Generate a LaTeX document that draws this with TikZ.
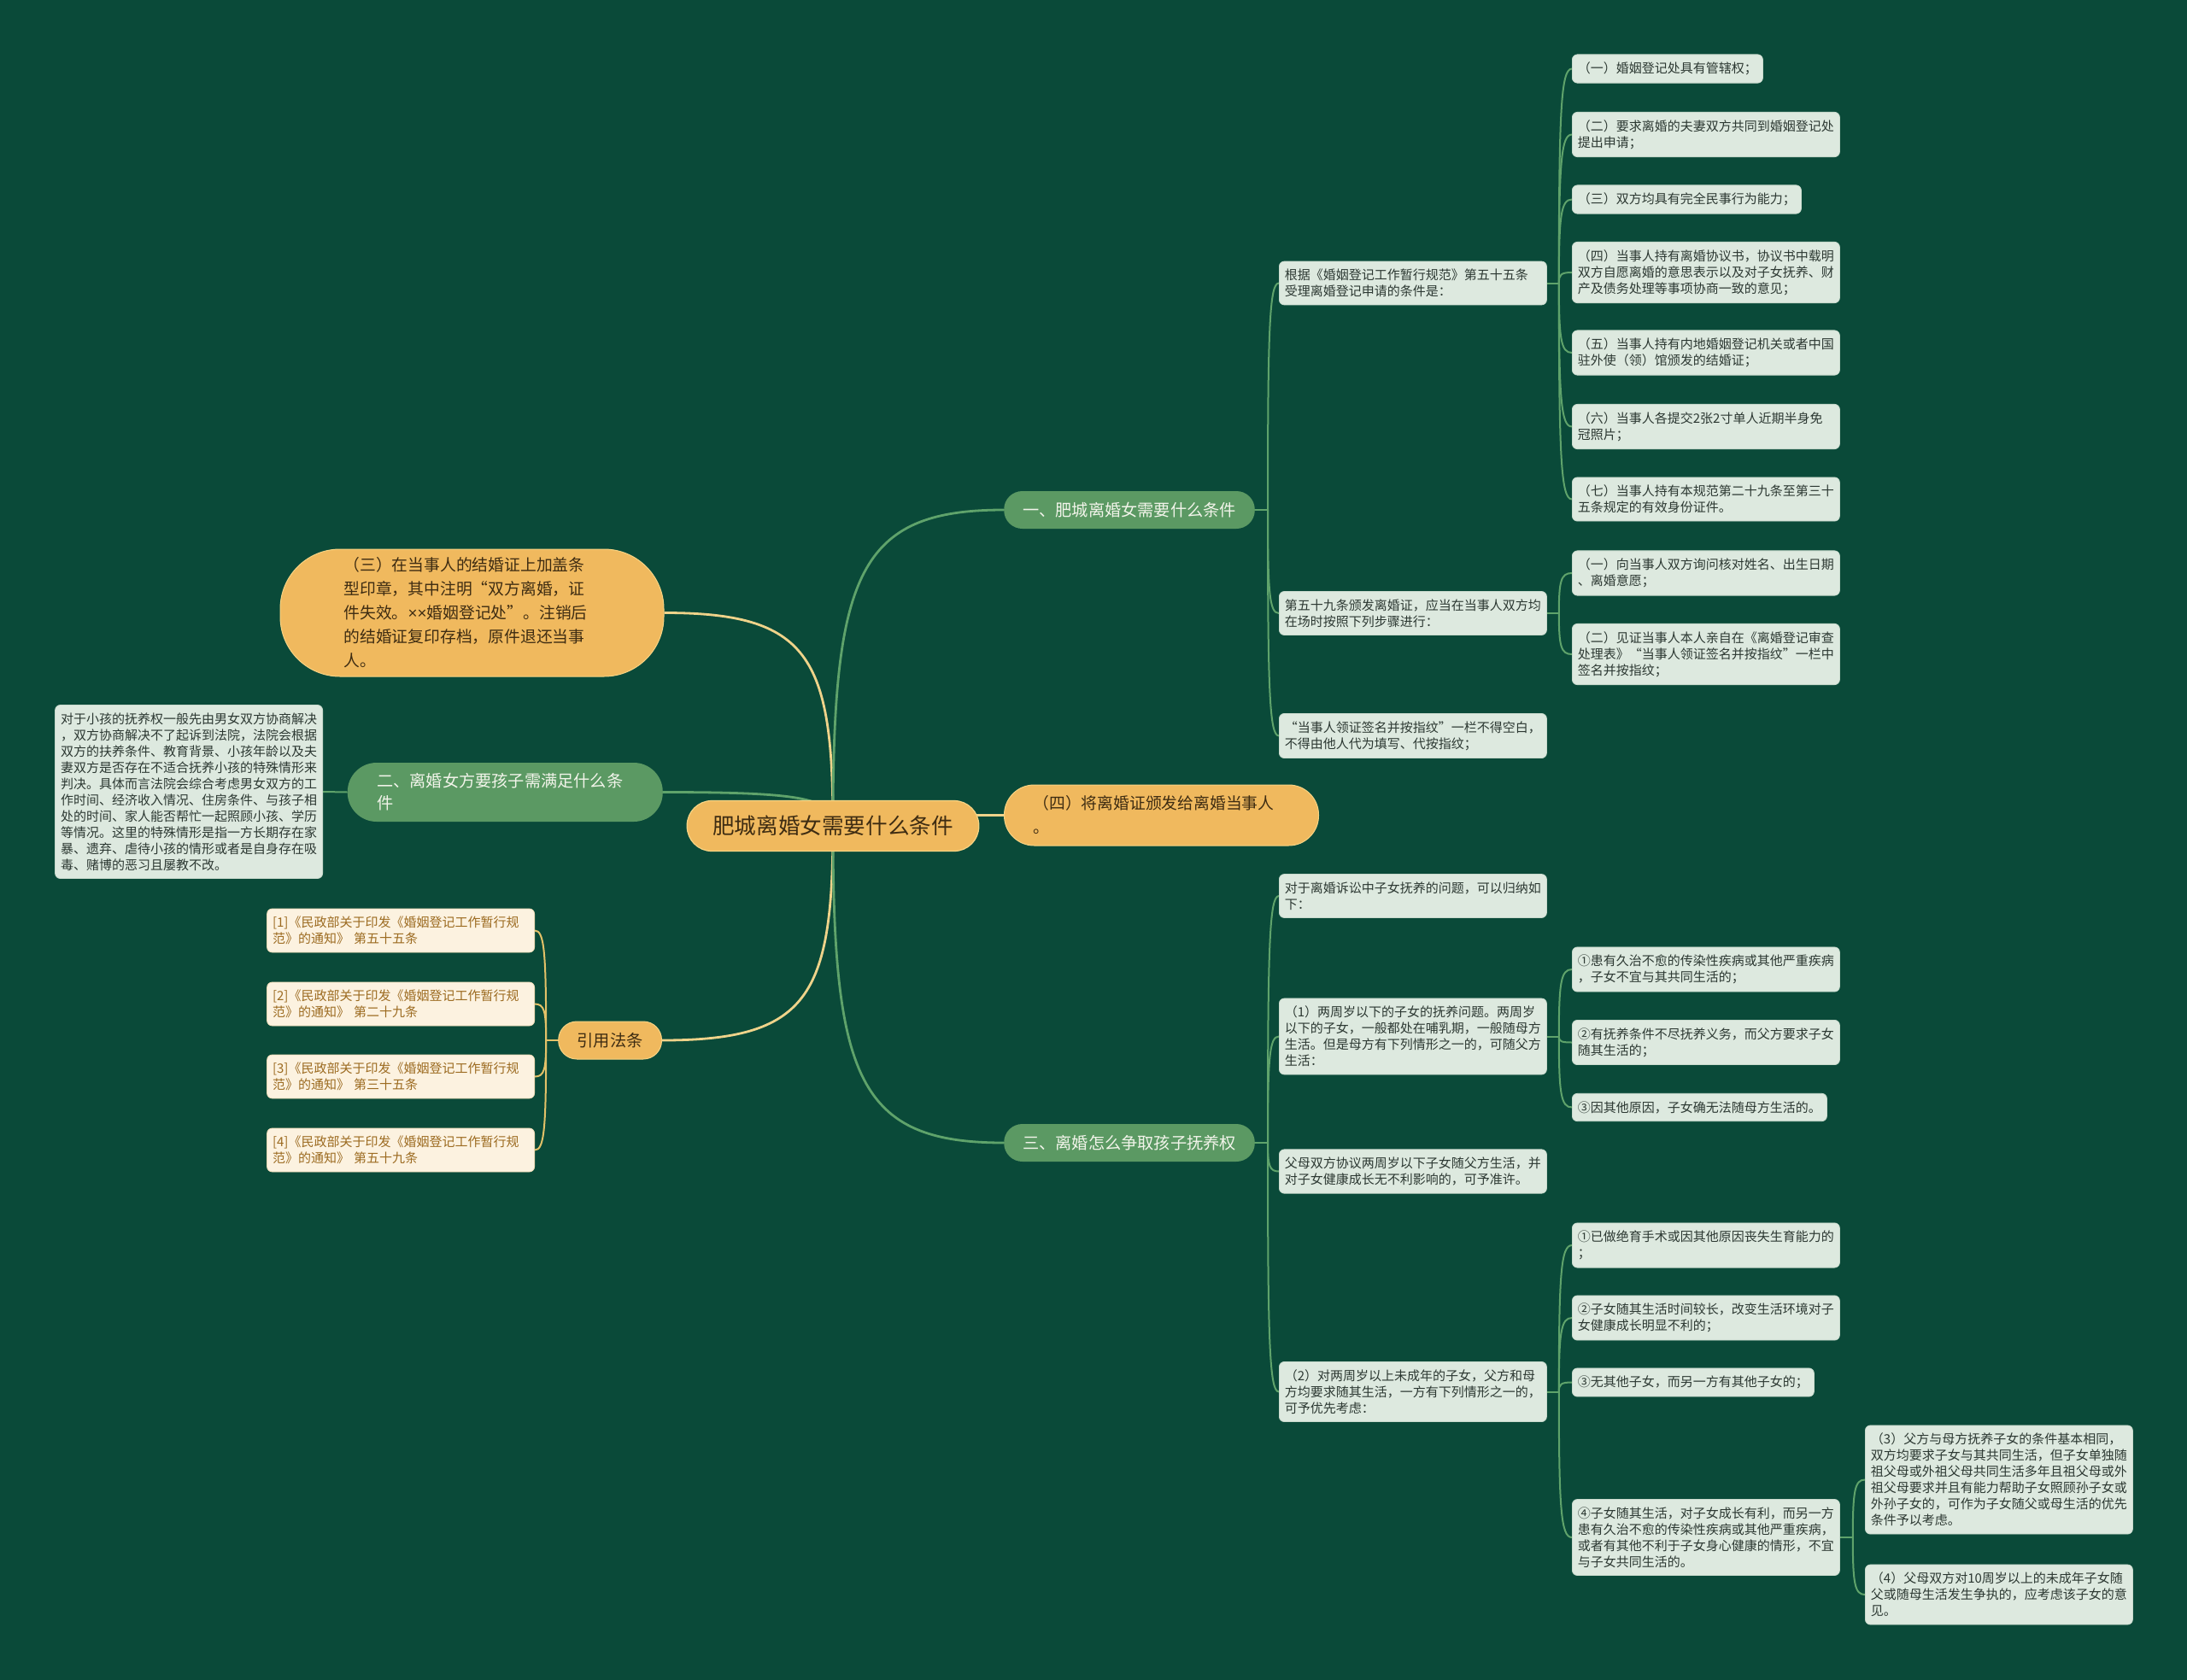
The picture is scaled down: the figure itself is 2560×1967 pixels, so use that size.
\documentclass[tikz,border=0pt]{standalone}
\usepackage{fontspec}
\setmainfont{Noto Sans CJK SC}
\newfontfamily\latinf{Liberation Sans}
\usetikzlibrary{calc}
\definecolor{bgc}{HTML}{0A4A39}
\definecolor{gfill}{HTML}{5B9963}
\definecolor{gtext}{HTML}{F2F4EA}
\definecolor{ofill}{HTML}{F0B95E}
\definecolor{oline}{HTML}{F7D383}
\definecolor{otext}{HTML}{3E2C12}
\definecolor{leaffill}{HTML}{DDE9DF}
\definecolor{leafline}{HTML}{C9DACD}
\definecolor{leaftext}{HTML}{2C3832}
\definecolor{reffill}{HTML}{FCF2E0}
\definecolor{refline}{HTML}{F0DDB8}
\definecolor{reftext}{HTML}{9C6B21}
\definecolor{glinkc}{HTML}{5FA36B}
\definecolor{ylinkc}{HTML}{EFD38A}
\definecolor{ylink2c}{HTML}{E2C168}
\pgfdeclarelayer{backdrop}
\pgfdeclarelayer{links}
\pgfsetlayers{backdrop,links,main}
\newcommand\mmlink[3]{\draw[#1] (#2) .. controls ($(#2)!0.8!(#2 |- #3)$) and ($(#3)!0.85!(#2 |- #3)$) .. (#3);}
\begin{document}
\begin{tikzpicture}[x=1pt,y=-1pt,
  rootbox/.style={fill=ofill, draw=oline, line width=1.2pt, rounded corners=29pt, minimum height=59pt, inner xsep=30pt, inner ysep=4pt, text=otext, font=\fontsize{25.6}{30}\selectfont},
  gpill/.style={fill=gfill, text=gtext, rounded corners=21.5pt, minimum height=44pt, inner xsep=22pt, inner ysep=4pt, font=\fontsize{19.2}{26}\selectfont, anchor=west},
  gpilltwo/.style={gpill, text width=300pt, align=left, minimum width=369pt, minimum height=69pt, rounded corners=34pt, inner xsep=0pt},
  opill/.style={fill=ofill, draw=oline, line width=1pt, text=otext, font=\fontsize{18.8}{28}\selectfont, text width=300pt, align=left, rounded corners=35pt, inner xsep=0pt, anchor=west},
  opillone/.style={fill=ofill, draw=oline, line width=1pt, text=otext, rounded corners=21.5pt, minimum height=44pt, inner xsep=22pt, inner ysep=4pt, font=\fontsize{19.2}{26}\selectfont},
  leaf/.style={fill=leaffill, draw=leafline, line width=0.8pt, rounded corners=6pt, inner xsep=6.5pt, inner ysep=9pt, align=left, text=leaftext, font=\fontsize{15}{19}\selectfont, anchor=west},
  leafw/.style={leaf, text width=300pt},
  refbox/.style={leaf, fill=reffill, draw=refline, text=reftext, text width=300pt, anchor=east},
  glink/.style={draw=glinkc, line width=2.8pt},
  ylink/.style={draw=ylinkc, line width=2.8pt},
  glinktwo/.style={draw=glinkc, line width=2pt},
  ylinktwo/.style={draw=ylink2c, line width=2pt}
]
\begin{pgfonlayer}{backdrop}
\fill[bgc] (0,0) rectangle (2560,1967);
\end{pgfonlayer}
\useasboundingbox (0,0) rectangle (2560,1967);

% root and main branches
\node[rootbox] (root) at (975,967) {肥城离婚女需要什么条件};
\node[gpill] (b1) at (1175,597) {一、肥城离婚女需要什么条件};
\node[opill, minimum width=368pt, minimum height=71pt] (b4) at (1175,954.5) {（四）将离婚证颁发给离婚当事人\\。};
\node[gpill] (b3) at (1175,1338) {三、离婚怎么争取孩子抚养权};
\node[opill, anchor=center, minimum width=449pt, minimum height=149pt, rounded corners=70pt] (o3) at (552.5,717.5) {（三）在当事人的结婚证上加盖条\\型印章，其中注明“双方离婚，证\\件失效。{\latinf ××}婚姻登记处”。注销后\\的结婚证复印存档，原件退还当事\\人。};
\node[gpilltwo, anchor=east] (b2) at (776,927.5) {二、离婚女方要孩子需满足什么条\\件};
\node[opillone, anchor=east] (cite) at (775,1218) {引用法条};

% left text box
\node[leafw, anchor=east] (tb) at (378,927) {对于小孩的抚养权一般先由男女双方协商解决\\，双方协商解决不了起诉到法院，法院会根据\\双方的扶养条件、教育背景、小孩年龄以及夫\\妻双方是否存在不适合抚养小孩的特殊情形来\\判决。具体而言法院会综合考虑男女双方的工\\作时间、经济收入情况、住房条件、与孩子相\\处的时间、家人能否帮忙一起照顾小孩、学历\\等情况。这里的特殊情形是指一方长期存在家\\暴、遗弃、虐待小孩的情形或者是自身存在吸\\毒、赌博的恶习且屡教不改。};

% references
\node[refbox] (ref1) at (626,1089.5) {[1]《民政部关于印发《婚姻登记工作暂行规\\范》的通知》 第五十五条};
\node[refbox] (ref2) at (626,1175.5) {[2]《民政部关于印发《婚姻登记工作暂行规\\范》的通知》 第二十九条};
\node[refbox] (ref3) at (626,1260.5) {[3]《民政部关于印发《婚姻登记工作暂行规\\范》的通知》 第三十五条};
\node[refbox] (ref4) at (626,1346.5) {[4]《民政部关于印发《婚姻登记工作暂行规\\范》的通知》 第五十九条};

% middle column
\node[leafw] (m1) at (1497,331.5) {根据《婚姻登记工作暂行规范》第五十五条\\受理离婚登记申请的条件是：};
\node[leafw] (m2) at (1497,718) {第五十九条颁发离婚证，应当在当事人双方均\\在场时按照下列步骤进行：};
\node[leafw] (m3) at (1497,861.5) {“当事人领证签名并按指纹”一栏不得空白，\\不得由他人代为填写、代按指纹；};
\node[leafw] (m4) at (1497,1049) {对于离婚诉讼中子女抚养的问题，可以归纳如\\下：};
\node[leafw] (m5) at (1497,1213.5) {（1）两周岁以下的子女的抚养问题。两周岁\\以下的子女，一般都处在哺乳期，一般随母方\\生活。但是母方有下列情形之一的，可随父方\\生活：};
\node[leafw] (m6) at (1497,1371.5) {父母双方协议两周岁以下子女随父方生活，并\\对子女健康成长无不利影响的，可予准许。};
\node[leafw] (m7) at (1497,1629.5) {（2）对两周岁以上未成年的子女，父方和母\\方均要求随其生活，一方有下列情形之一的，\\可予优先考虑：};

% right column top
\node[leaf] (l1) at (1840,80.5) {（一）婚姻登记处具有管辖权；};
\node[leafw] (l2) at (1840,157.5) {（二）要求离婚的夫妻双方共同到婚姻登记处\\提出申请；};
\node[leaf] (l3) at (1840,233.5) {（三）双方均具有完全民事行为能力；};
\node[leafw] (l4) at (1840,319) {（四）当事人持有离婚协议书，协议书中载明\\双方自愿离婚的意思表示以及对子女抚养、财\\产及债务处理等事项协商一致的意见；};
\node[leafw] (l5) at (1840,413) {（五）当事人持有内地婚姻登记机关或者中国\\驻外使（领）馆颁发的结婚证；};
\node[leafw] (l6) at (1840,499.5) {（六）当事人各提交2张2寸单人近期半身免\\冠照片；};
\node[leafw] (l7) at (1840,584.5) {（七）当事人持有本规范第二十九条至第三十\\五条规定的有效身份证件。};
\node[leafw] (l8) at (1840,671) {（一）向当事人双方询问核对姓名、出生日期\\、离婚意愿；};
\node[leafw] (l9) at (1840,766) {（二）见证当事人本人亲自在《离婚登记审查\\处理表》“当事人领证签名并按指纹”一栏中\\签名并按指纹；};

% right column bottom
\node[leafw] (r1) at (1840,1135) {①患有久治不愈的传染性疾病或其他严重疾病\\，子女不宜与其共同生活的；};
\node[leafw] (r2) at (1840,1220.5) {②有抚养条件不尽抚养义务，而父方要求子女\\随其生活的；};
\node[leaf] (r3) at (1840,1296.5) {③因其他原因，子女确无法随母方生活的。};
\node[leafw] (r4) at (1840,1458) {①已做绝育手术或因其他原因丧失生育能力的\\；};
\node[leafw] (r5) at (1840,1543) {②子女随其生活时间较长，改变生活环境对子\\女健康成长明显不利的；};
\node[leaf] (r6) at (1840,1618.5) {③无其他子女，而另一方有其他子女的；};
\node[leafw] (r7) at (1840,1800) {④子女随其生活，对子女成长有利，而另一方\\患有久治不愈的传染性疾病或其他严重疾病，\\或者有其他不利于子女身心健康的情形，不宜\\与子女共同生活的。};
\node[leafw] (r8) at (2183,1732.5) {（3）父方与母方抚养子女的条件基本相同，\\双方均要求子女与其共同生活，但子女单独随\\祖父母或外祖父母共同生活多年且祖父母或外\\祖父母要求并且有能力帮助子女照顾孙子女或\\外孙子女的，可作为子女随父或母生活的优先\\条件予以考虑。};
\node[leafw] (r9) at (2183,1867) {（4）父母双方对10周岁以上的未成年子女随\\父或随母生活发生争执的，应考虑该子女的意\\见。};

% spine points
\coordinate (b1s) at ($(b1.east)+(15,0)$);
\coordinate (b3s) at ($(b3.east)+(15,0)$);
\coordinate (m1s) at ($(m1.east)+(14,0)$);
\coordinate (m2s) at ($(m2.east)+(14,0)$);
\coordinate (m5s) at ($(m5.east)+(14,0)$);
\coordinate (m7s) at ($(m7.east)+(14,0)$);
\coordinate (r7s) at ($(r7.east)+(15,0)$);
\coordinate (cites) at ($(cite.west)+(-14,0)$);

\begin{pgfonlayer}{links}
% root level
\mmlink{ylink}{root.center}{o3.east}
\mmlink{glink}{root.center}{b2.east}
\mmlink{ylink}{root.center}{cite.east}
\mmlink{glink}{root.center}{b1.west}
\mmlink{ylink}{root.center}{b4.west}
\mmlink{glink}{root.center}{b3.west}
% branch 2
\draw[glinktwo] (b2.west) -- (tb.east);
% citations
\draw[ylinktwo] (cite.west) -- (cites);
\mmlink{ylinktwo}{cites}{ref1.east}
\mmlink{ylinktwo}{cites}{ref2.east}
\mmlink{ylinktwo}{cites}{ref3.east}
\mmlink{ylinktwo}{cites}{ref4.east}
% branch 1
\draw[glinktwo] (b1.east) -- (b1s);
\mmlink{glinktwo}{b1s}{m1.west}
\mmlink{glinktwo}{b1s}{m2.west}
\mmlink{glinktwo}{b1s}{m3.west}
\draw[glinktwo] (m1.east) -- (m1s);
\mmlink{glinktwo}{m1s}{l1.west}
\mmlink{glinktwo}{m1s}{l2.west}
\mmlink{glinktwo}{m1s}{l3.west}
\mmlink{glinktwo}{m1s}{l4.west}
\mmlink{glinktwo}{m1s}{l5.west}
\mmlink{glinktwo}{m1s}{l6.west}
\mmlink{glinktwo}{m1s}{l7.west}
\draw[glinktwo] (m2.east) -- (m2s);
\mmlink{glinktwo}{m2s}{l8.west}
\mmlink{glinktwo}{m2s}{l9.west}
% branch 3
\draw[glinktwo] (b3.east) -- (b3s);
\mmlink{glinktwo}{b3s}{m4.west}
\mmlink{glinktwo}{b3s}{m5.west}
\mmlink{glinktwo}{b3s}{m6.west}
\mmlink{glinktwo}{b3s}{m7.west}
\draw[glinktwo] (m5.east) -- (m5s);
\mmlink{glinktwo}{m5s}{r1.west}
\mmlink{glinktwo}{m5s}{r2.west}
\mmlink{glinktwo}{m5s}{r3.west}
\draw[glinktwo] (m7.east) -- (m7s);
\mmlink{glinktwo}{m7s}{r4.west}
\mmlink{glinktwo}{m7s}{r5.west}
\mmlink{glinktwo}{m7s}{r6.west}
\mmlink{glinktwo}{m7s}{r7.west}
\draw[glinktwo] (r7.east) -- (r7s);
\mmlink{glinktwo}{r7s}{r8.west}
\mmlink{glinktwo}{r7s}{r9.west}
\end{pgfonlayer}
\end{tikzpicture}
\end{document}
